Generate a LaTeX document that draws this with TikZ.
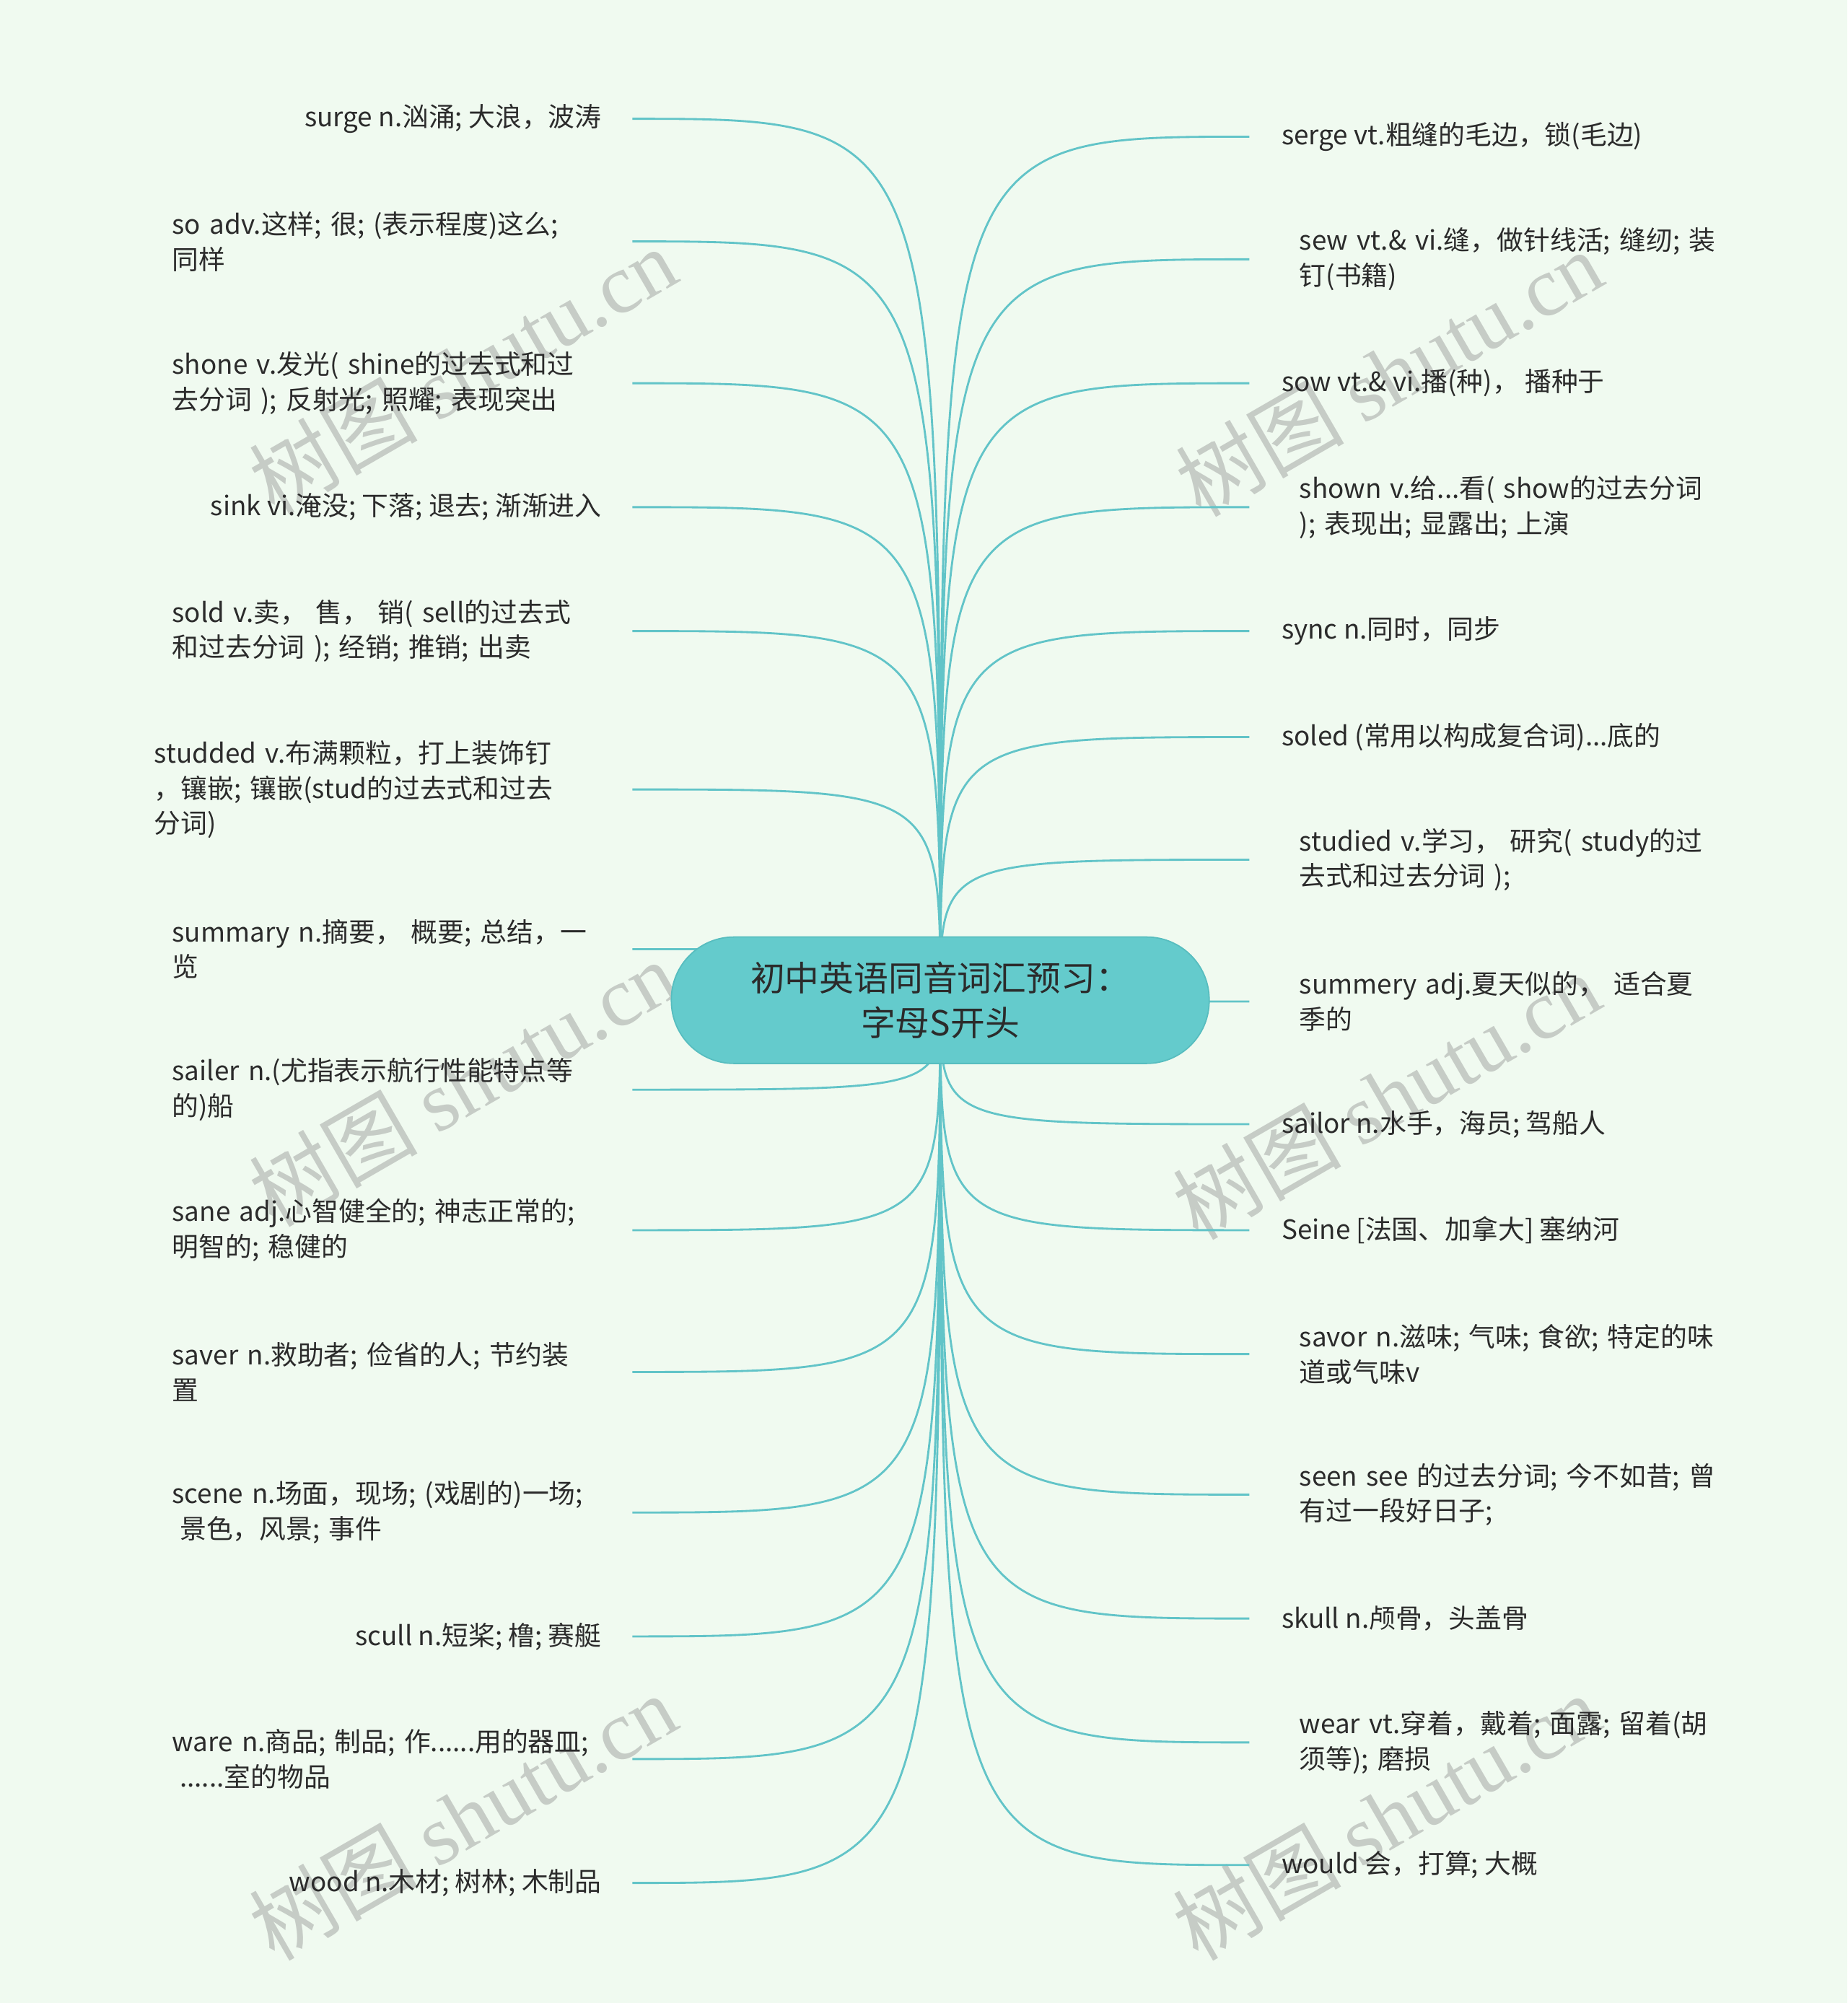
\documentclass[tikz,border=0pt]{standalone}
\usepackage{fontspec}
\setmainfont{Noto Sans CJK SC}
\newfontfamily\wmlatin{Liberation Serif}
\newfontfamily\wmcjk{Noto Sans CJK SC}
\definecolor{bgcol}{HTML}{F0FAF0}
\definecolor{linecol}{HTML}{62C4C8}
\definecolor{ctrfill}{HTML}{64CBCC}
\definecolor{ctrdraw}{HTML}{57BDBF}
\definecolor{txtcol}{HTML}{2B2B2B}
\definecolor{wmcol}{HTML}{C6CCC6}
\newcommand{\leaffont}{\fontsize{20.8}{27.5}\selectfont}
\pgfdeclarelayer{bglayer}
\pgfdeclarelayer{linelayer}
\pgfsetlayers{bglayer,linelayer,main}
\tikzset{
  ctr/.style={rectangle, rounded corners=49pt, minimum width=421pt, minimum height=99pt,
    fill=ctrfill, draw=ctrdraw, line width=1pt, align=center, text=txtcol,
    font=\fontsize{27}{35}\selectfont, inner sep=0pt},
  leafL/.style={anchor=east, inner xsep=24pt, inner ysep=0pt, align=left, text=txtcol, font=\leaffont},
  leafLm/.style={leafL, text width=336pt},
  leafR/.style={anchor=west, inner xsep=25pt, inner ysep=0pt, align=left, text=txtcol, font=\leaffont},
  leafRm/.style={leafR, inner xsep=39pt, text width=330pt},
  conn/.style={draw=linecol, line width=1.6pt},
  wm/.style={text=wmcol, rotate=30, inner sep=0pt, font=\fontsize{66}{66}\selectfont}
}
\begin{document}
\begin{tikzpicture}[x=1pt,y=-1pt]
\begin{pgfonlayer}{bglayer}
\fill[bgcol] (0,0) rectangle (1446,1568);
\node[wm] (W1) at (362,290) {{\wmcjk 树图} {\wmlatin shutu.cn}};
\node[wm] (W2) at (362,848) {{\wmcjk 树图} {\wmlatin shutu.cn}};
\node[wm] (W3) at (362,1422) {{\wmcjk 树图} {\wmlatin shutu.cn}};
\node[wm] (W4) at (1087,292) {{\wmcjk 树图} {\wmlatin shutu.cn}};
\node[wm] (W5) at (1085,858) {{\wmcjk 树图} {\wmlatin shutu.cn}};
\node[wm] (W6) at (1085,1422) {{\wmcjk 树图} {\wmlatin shutu.cn}};
\end{pgfonlayer}
\useasboundingbox (0,0) rectangle (1446,1568);

\node[ctr] (C) at (736,783) {初中英语同音词汇预习：\\字母S开头};

% left leaves
\node[leafL]  (L1)  at (495,93)   {surge n.汹涌; 大浪，波涛};
\node[leafLm] (L2)  at (495,189)  {\mbox{so adv.这样; 很; (表示程度)这么;}\\同样};
\node[leafLm] (L3)  at (495,300)  {\mbox{shone v.发光( shine的过去式和过}\\\mbox{去分词 ); 反射光; 照耀; 表现突出}};
\node[leafL]  (L4)  at (495,397)  {sink vi.淹没; 下落; 退去; 渐渐进入};
\node[leafLm] (L5)  at (495,494)  {\mbox{sold v.卖， 售， 销( sell的过去式}\\\mbox{和过去分词 ); 经销; 推销; 出卖}};
\node[leafLm, text width=350pt] (L6) at (495,618) {\mbox{studded v.布满颗粒，打上装饰钉}\\\mbox{，镶嵌; 镶嵌(stud的过去式和过去}\\分词)};
\node[leafLm] (L7)  at (495,743)  {\mbox{summary n.摘要， 概要; 总结，一}\\览};
\node[leafLm] (L8)  at (495,853)  {\mbox{sailer n.(尤指表示航行性能特点等}\\的)船};
\node[leafLm] (L9)  at (495,963)  {\mbox{sane adj.心智健全的; 神志正常的;}\\\mbox{明智的; 稳健的}};
\node[leafLm] (L10) at (495,1074) {\mbox{saver n.救助者; 俭省的人; 节约装}\\置};
\node[leafLm] (L11) at (495,1184) {\mbox{scene n.场面，现场; (戏剧的)一场;}\\\mbox{\hspace*{6pt}景色，风景; 事件}};
\node[leafL]  (L12) at (495,1281) {scull n.短桨; 橹; 赛艇};
\node[leafLm] (L13) at (495,1377) {\mbox{ware n.商品; 制品; 作......用的器皿;}\\\mbox{\hspace*{6pt}......室的物品}};
\node[leafL]  (L14) at (495,1474) {wood n.木材; 树林; 木制品};

% right leaves
\node[leafR]  (R1)  at (978,107)  {serge vt.粗缝的毛边，锁(毛边)};
\node[leafRm] (R2)  at (978,203)  {\mbox{sew vt.\& vi.缝，做针线活; 缝纫; 装}\\钉(书籍)};
\node[leafR]  (R3)  at (978,300)  {sow vt.\& vi.播(种)， 播种于};
\node[leafRm] (R4)  at (978,397)  {\mbox{shown v.给...看( show的过去分词}\\\mbox{); 表现出; 显露出; 上演}};
\node[leafR]  (R5)  at (978,494)  {sync n.同时，同步};
\node[leafR]  (R6)  at (978,577)  {soled (常用以构成复合词)...底的};
\node[leafRm] (R7)  at (978,673)  {\mbox{studied v.学习， 研究( study的过}\\\mbox{去式和过去分词 );}};
\node[leafRm] (R8)  at (978,784)  {\mbox{summery adj.夏天似的， 适合夏}\\季的};
\node[leafR]  (R9)  at (978,880)  {sailor n.水手，海员; 驾船人};
\node[leafR]  (R10) at (978,963)  {Seine [法国、加拿大] 塞纳河};
\node[leafRm] (R11) at (978,1060) {\mbox{savor n.滋味; 气味; 食欲; 特定的味}\\道或气味v};
\node[leafRm] (R12) at (978,1170) {\mbox{seen see 的过去分词; 今不如昔; 曾}\\\mbox{有过一段好日子;}};
\node[leafR]  (R13) at (978,1267) {skull n.颅骨，头盖骨};
\node[leafRm] (R14) at (978,1364) {\mbox{wear vt.穿着，戴着; 面露; 留着(胡}\\\mbox{须等); 磨损}};
\node[leafR]  (R15) at (978,1460) {would 会，打算; 大概};

\begin{pgfonlayer}{linelayer}
\foreach \n in {L1,L2,L3,L4,L5,L6,L7,L8,L9,L10,L11,L12,L13,L14}
  \draw[conn] (C.center) .. controls (C.center |- \n.east) .. (\n.east);
\foreach \n in {R1,R2,R3,R4,R5,R6,R7,R8,R9,R10,R11,R12,R13,R14,R15}
  \draw[conn] (C.center) .. controls (C.center |- \n.west) .. (\n.west);
\end{pgfonlayer}
\end{tikzpicture}
\end{document}
